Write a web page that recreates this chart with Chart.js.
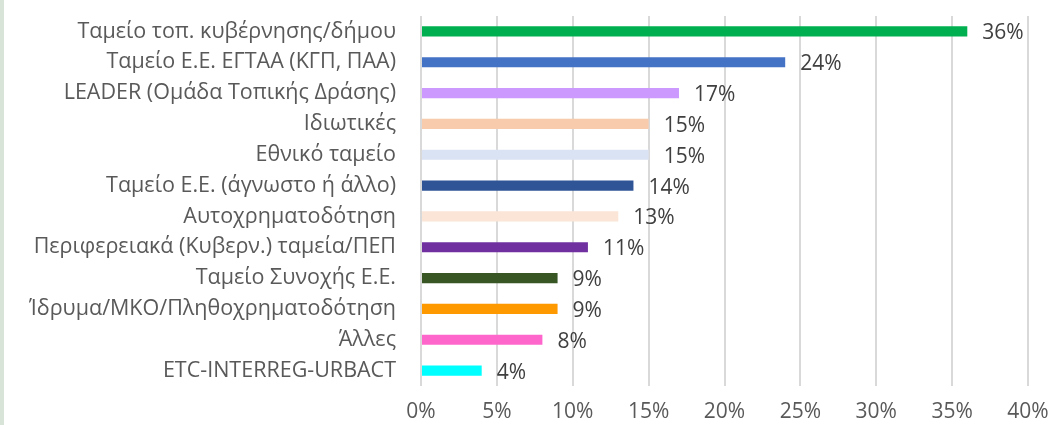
<!DOCTYPE html>
<html>
<head>
<meta charset="utf-8">
<script src="https://cdn.jsdelivr.net/npm/chart.js@4"></script>
<style>
  html, body { margin: 0; padding: 0; background: #fff; }
  #wrap { position: relative; width: 1064px; height: 425px; }
  #strip { position: absolute; left: 0; top: 0; width: 4px; height: 425px; background: #d9e4d9; }
  canvas { position: absolute; left: 0; top: 0; }
</style>
</head>
<body>
<div id="wrap">
  <div id="strip"></div>
  <canvas id="fundChart" width="1064" height="425"></canvas>
</div>
<script>
// ===== Data =====
const categories = [
  'Ταμείο τοπ. κυβέρνησης/δήμου',
  'Ταμείο Ε.Ε. ΕΓΤΑΑ (ΚΓΠ, ΠΑΑ)',
  'LEADER (Ομάδα Τοπικής Δράσης)',
  'Ιδιωτικές',
  'Εθνικό ταμείο',
  'Ταμείο Ε.Ε. (άγνωστο ή άλλο)',
  'Αυτοχρηματοδότηση',
  'Περιφερειακά (Κυβερν.) ταμεία/ΠΕΠ',
  'Ταμείο Συνοχής Ε.Ε.',
  'Ίδρυμα/ΜΚΟ/Πληθοχρηματοδότηση',
  'Άλλες',
  'ETC-INTERREG-URBACT'
];
const shares = [36, 24, 17, 15, 15, 14, 13, 11, 9, 9, 8, 4];
const barColors = [
  '#00b050', '#4472c4', '#cc99ff', '#f8cbad', '#dae3f3', '#2f5597',
  '#fbe5d6', '#7030a0', '#375623', '#ff9900', '#ff66cc', '#00ffff'
];
const xTicks = [0, 5, 10, 15, 20, 25, 30, 35, 40];

const FONT = "'Open Sans', 'Noto Sans', sans-serif";

// value labels at the end of each bar
const valueLabels = {
  id: 'valueLabels',
  afterDatasetsDraw(chart) {
    const ctx = chart.ctx;
    const meta = chart.getDatasetMeta(0);
    ctx.save();
    ctx.font = '21px ' + FONT;
    ctx.fillStyle = '#404040';
    ctx.textBaseline = 'middle';
    ctx.textAlign = 'left';
    meta.data.forEach((bar, i) => {
      ctx.fillText(shares[i] + '%', bar.x + 15, bar.y + 2);
    });
    ctx.restore();
  }
};

const ctx = document.getElementById('fundChart').getContext('2d');
new Chart(ctx, {
  type: 'bar',
  data: {
    labels: categories,
    datasets: [{
      data: shares,
      backgroundColor: barColors,
      barPercentage: 0.33,
      categoryPercentage: 1
    }]
  },
  options: {
    indexAxis: 'y',
    responsive: false,
    animation: false,
    layout: { padding: { top: 16, right: 36, left: 0, bottom: 0 } },
    plugins: { legend: { display: false }, tooltip: { enabled: false } },
    scales: {
      x: {
        min: 0,
        max: 40,
        afterBuildTicks: s => { s.ticks = xTicks.map(v => ({ value: v })); },
        afterFit: s => { s.height = 39; s.paddingLeft = 0; },
        grid: { color: '#d9d9d9', lineWidth: 2, drawTicks: false },
        border: { display: false },
        ticks: {
          padding: 13,
          color: '#595959',
          font: { family: FONT, size: 21 },
          maxRotation: 0,
          callback: v => v + '%'
        }
      },
      y: {
        afterFit: s => { s.width = 421; s.paddingTop = 0; s.paddingBottom = 0; },
        grid: { display: false, drawTicks: false },
        border: { display: false },
        ticks: {
          padding: 25,
          color: '#595959',
          font: { family: FONT, size: 21.5 },
          autoSkip: false
        }
      }
    }
  },
  plugins: [valueLabels]
});
</script>
</body>
</html>
